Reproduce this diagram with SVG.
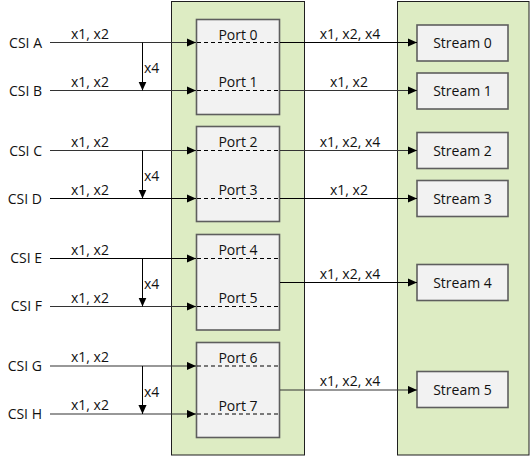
<svg xmlns="http://www.w3.org/2000/svg" width="531" height="457" viewBox="0 0 531 457">
<style>
text{font-family:"Open Sans","DejaVu Sans","Liberation Sans",sans-serif;font-size:14px;fill:#111}
.panel{fill:#ddecc3;stroke:#1f1f1f;stroke-width:1}
.box{fill:#f2f2f2;stroke:#5e5e5e;stroke-width:1.6}
.ln{stroke:#000;stroke-width:1;fill:none}
.gl{stroke:#333;stroke-width:1.2;fill:none}
.dash{stroke:#000;stroke-width:1;stroke-dasharray:4 3;fill:none}
.m{text-anchor:middle}
.r{text-anchor:end}
</style>
<defs>
<marker id="ah" viewBox="0 0 10 10" refX="10" refY="5" markerWidth="9" markerHeight="9" markerUnits="userSpaceOnUse" orient="auto">
<path d="M0,0.5 L10,5 L0,9.5 Z" fill="#000"/>
</marker>
</defs>
<g id="panel-ports"><rect class="panel" x="171.5" y="1.5" width="133" height="453.5"/></g>
<g id="panel-streams"><rect class="panel" x="397.5" y="1.5" width="131.5" height="453.5"/></g>
<g id="port01"><rect class="box" x="196.5" y="19.5" width="83" height="95"/><text class="m" x="238" y="40">Port 0</text><text class="m" x="238" y="87">Port 1</text></g>
<g id="port23"><rect class="box" x="196.5" y="126.5" width="83" height="95"/><text class="m" x="238" y="147">Port 2</text><text class="m" x="238" y="195">Port 3</text></g>
<g id="port45"><rect class="box" x="196.5" y="234.5" width="83" height="95.5"/><text class="m" x="238" y="255">Port 4</text><text class="m" x="238" y="303">Port 5</text></g>
<g id="port67"><rect class="box" x="196.5" y="342.5" width="83" height="95"/><text class="m" x="238" y="363">Port 6</text><text class="m" x="238" y="411">Port 7</text></g>
<g id="stream0"><rect class="box" x="417" y="25" width="91" height="36"/><text class="m" x="462.5" y="48">Stream 0</text></g>
<g id="stream1"><rect class="box" x="417" y="73" width="91" height="36"/><text class="m" x="462.5" y="96">Stream 1</text></g>
<g id="stream2"><rect class="box" x="417" y="132.5" width="91" height="36"/><text class="m" x="462.5" y="155.5">Stream 2</text></g>
<g id="stream3"><rect class="box" x="417" y="180.5" width="91" height="36"/><text class="m" x="462.5" y="203.5">Stream 3</text></g>
<g id="stream4"><rect class="box" x="417" y="264.5" width="91" height="36"/><text class="m" x="462.5" y="287.5">Stream 4</text></g>
<g id="stream5"><rect class="box" x="417" y="371.5" width="91" height="36"/><text class="m" x="462.5" y="394.5">Stream 5</text></g>
<g id="inputs">
<text class="r" x="42" y="47.5">CSI A</text>
<text class="r" x="42" y="95.5">CSI B</text>
<text class="r" x="42" y="155.5">CSI C</text>
<text class="r" x="42" y="203.5">CSI D</text>
<text class="r" x="42" y="263">CSI E</text>
<text class="r" x="42" y="311">CSI F</text>
<text class="r" x="42" y="371">CSI G</text>
<text class="r" x="42" y="419">CSI H</text>
</g>
<g id="connectors">
<path class="gl" d="M50,42.5 H196" marker-end="url(#ah)"/>
<path class="gl" d="M50,90.5 H196" marker-end="url(#ah)"/>
<path class="ln" d="M142.5,42.5 V90.5" marker-end="url(#ah)"/>
<path class="gl" d="M50,150.5 H196" marker-end="url(#ah)"/>
<path class="ln" d="M50,198.5 H196" marker-end="url(#ah)"/>
<path class="ln" d="M142.5,150.5 V198.5" marker-end="url(#ah)"/>
<path class="ln" d="M50,258.5 H196" marker-end="url(#ah)"/>
<path class="gl" d="M50,306.5 H196" marker-end="url(#ah)"/>
<path class="ln" d="M142.5,258.5 V306.5" marker-end="url(#ah)"/>
<path class="gl" d="M50,366 H196" marker-end="url(#ah)"/>
<path class="gl" d="M50,414 H196" marker-end="url(#ah)"/>
<path class="ln" d="M142.5,366 V414" marker-end="url(#ah)"/>
<path class="dash" d="M197,42.5 H280"/>
<path class="dash" d="M197,90.5 H280"/>
<path class="dash" d="M197,150.5 H280"/>
<path class="dash" d="M197,198.5 H280"/>
<path class="dash" d="M197,258.5 H280"/>
<path class="dash" d="M197,306.5 H280"/>
<path class="dash" d="M197,366 H280"/>
<path class="dash" d="M197,414 H280"/>
<path class="ln" d="M280,42.5 H417" marker-end="url(#ah)"/>
<path class="gl" d="M280,90.5 H417" marker-end="url(#ah)"/>
<path class="gl" d="M280,150.5 H417" marker-end="url(#ah)"/>
<path class="ln" d="M280,198.5 H417" marker-end="url(#ah)"/>
<path class="ln" d="M280,282.5 H417" marker-end="url(#ah)"/>
<path class="gl" d="M280,390 H417" marker-end="url(#ah)"/>
</g>
<g id="labels">
<text class="m" x="90" y="39">x1, x2</text>
<text class="m" x="90" y="87">x1, x2</text>
<text x="144" y="73">x4</text>
<text class="m" x="90" y="147">x1, x2</text>
<text class="m" x="90" y="195">x1, x2</text>
<text x="144" y="181">x4</text>
<text class="m" x="90" y="255">x1, x2</text>
<text class="m" x="90" y="303">x1, x2</text>
<text x="144" y="289">x4</text>
<text class="m" x="90" y="362">x1, x2</text>
<text class="m" x="90" y="410">x1, x2</text>
<text x="144" y="397">x4</text>
<text class="m" x="350" y="39">x1, x2, x4</text>
<text class="m" x="349" y="87">x1, x2</text>
<text class="m" x="350" y="147">x1, x2, x4</text>
<text class="m" x="349" y="195">x1, x2</text>
<text class="m" x="350" y="279">x1, x2, x4</text>
<text class="m" x="350" y="386">x1, x2, x4</text>
</g>
</svg>
